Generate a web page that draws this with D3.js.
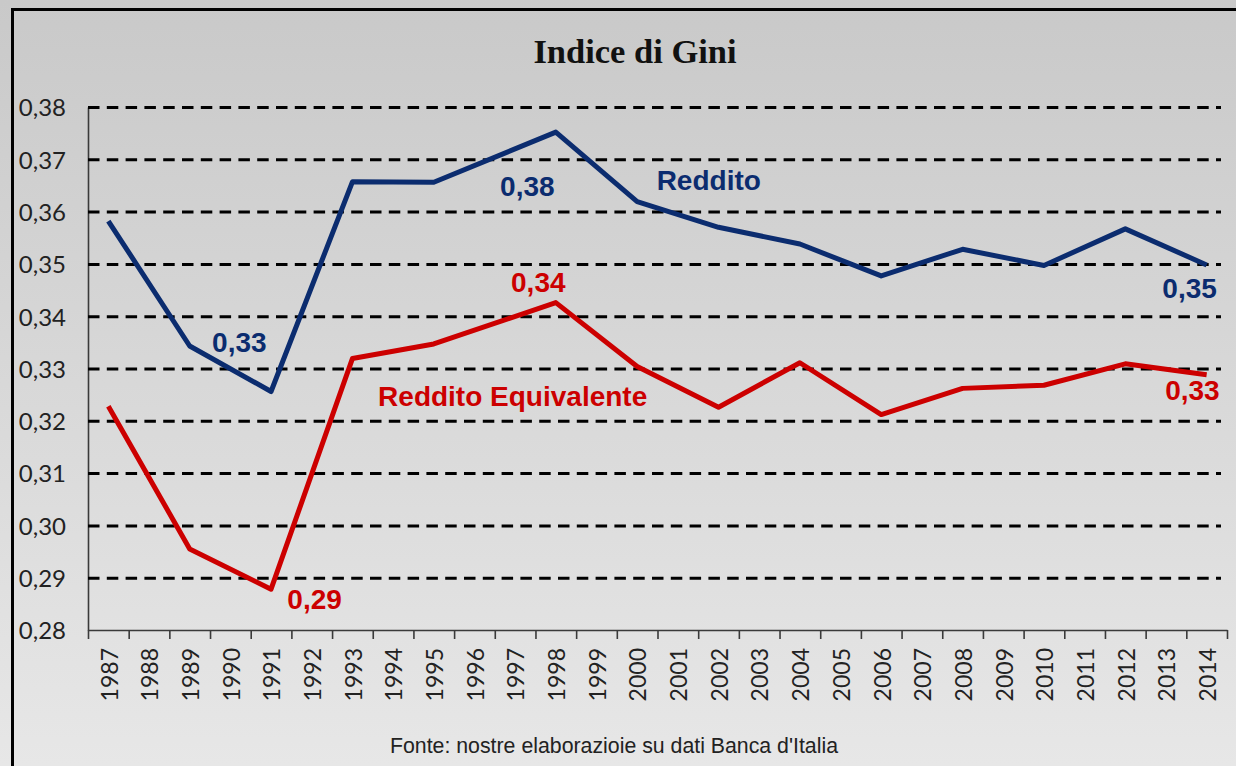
<!DOCTYPE html>
<html><head><meta charset="utf-8">
<script src="https://cdn.jsdelivr.net/npm/d3@7/dist/d3.min.js"></script>
<style>html,body{margin:0;padding:0;overflow:hidden;background:#d6d6d6}</style>
</head><body>
<svg id="c" width="1236" height="766"></svg>
<script>
// ---- data ----
const categories = ["1987","1988","1989","1990","1991","1992","1993","1994","1995","1996","1997","1998","1999","2000","2001","2002","2003","2004","2005","2006","2007","2008","2009","2010","2011","2012","2013","2014"];
const dataYears = [1987,1989,1991,1993,1995,1998,2000,2002,2004,2006,2008,2010,2012,2014];
const reddito = [0.3582,0.3343,0.3256,0.3657,0.3656,0.3752,0.3619,0.3570,0.3538,0.3477,0.3528,0.3497,0.3567,0.3498];
const redditoEquivalente = [0.3228,0.2955,0.2878,0.3319,0.3347,0.3426,0.3304,0.3226,0.3311,0.3212,0.3262,0.3268,0.3309,0.3288];
const yTicks = [0.28,0.29,0.30,0.31,0.32,0.33,0.34,0.35,0.36,0.37,0.38];
const labelTexts = ["0,33","0,38","Reddito","0,34","Reddito Equivalente","0,29","0,35","0,33"];
const labelSeries = ["r","r","r","e","e","e","r","e"];
const labelYears = [1990.22,1997.30,2001.76,1997.57,1996.94,1992.07,2013.58,2013.65];
const labelValues = [0.3331,0.3629,0.3641,0.3446,0.3229,0.2840,0.3434,0.3239];
const title = "Indice di Gini";
const source = "Fonte: nostre elaborazioie su dati Banca d'Italia";

// ---- setup ----
const W = 1236, H = 766;
const svg = d3.select("#c");
const colors = {r:"#0b2c6f", e:"#cc0000"};

const defs = svg.append("defs");
const grad = defs.append("linearGradient").attr("id","bg").attr("x1",0).attr("y1",0).attr("x2",0).attr("y2",1);
grad.append("stop").attr("offset","0%").attr("stop-color","#c9c9c9");
grad.append("stop").attr("offset","100%").attr("stop-color","#e7e7e7");
svg.append("rect").attr("width",W).attr("height",H).attr("fill","url(#bg)");

// frame (top and left edges visible)
svg.append("path").attr("d","M12.5,766 L12.5,9.5 L1236,9.5")
  .attr("fill","none").attr("stroke","#000").attr("stroke-width",3);

const x = d3.scaleLinear().domain([1986.5, 2014.5]).range([88, 1227]);
const y = d3.scaleLinear().domain([0.28, 0.38]).range([630, 107]);
const gridRight = 1221;

// title
svg.append("text").attr("x",635).attr("y",63).attr("text-anchor","middle")
  .attr("font-family","'Liberation Serif','Times New Roman',serif").attr("font-weight","bold")
  .attr("font-size",34.5).attr("fill","#111").text(title);

// y axis with dashed gridlines
const fmt = d => d3.format(".2f")(d).replace(".", ",");
const yAxis = svg.append("g").attr("transform","translate(88,0)")
  .call(d3.axisLeft(y).tickValues(yTicks).tickSize(-(gridRight-88)).tickSizeOuter(0).tickPadding(22).tickFormat(fmt));
yAxis.select(".domain").attr("stroke","#3a3a3a").attr("stroke-width",1.6);
yAxis.selectAll(".tick line").attr("stroke","#000").attr("stroke-width",3).attr("stroke-dasharray","11.5,7.3")
  .filter(d => d === 0.28).remove();
yAxis.selectAll(".tick text").attr("font-family","Lato, sans-serif").attr("font-size",24)
  .attr("fill","#222").attr("dy","0.37em");

// x axis: ticks at category boundaries
const boundaries = categories.map(c => +c - 0.5).concat([+categories[categories.length-1] + 0.5]);
const xAxis = svg.append("g").attr("transform","translate(0,630)")
  .call(d3.axisBottom(x).tickValues(boundaries).tickSize(9).tickSizeOuter(0).tickFormat(""));
xAxis.select(".domain").attr("stroke","#3a3a3a").attr("stroke-width",1.6);
xAxis.selectAll(".tick line").attr("stroke","#3a3a3a").attr("stroke-width",1.6);

// x labels rotated
svg.append("g").selectAll("text").data(categories).join("text")
  .attr("transform", d => `translate(${x(+d)+1},648) rotate(-90)`)
  .attr("text-anchor","end").attr("dy","0.36em")
  .attr("font-family","Lato, sans-serif").attr("font-size",23).attr("fill","#222")
  .text(d => d);

// lines
const line = d3.line().x(d => x(d[0])).y(d => y(d[1]));
const series = [
  {key:"r", values: dataYears.map((yr,i) => [yr, reddito[i]])},
  {key:"e", values: dataYears.map((yr,i) => [yr, redditoEquivalente[i]])}
];
svg.append("g").selectAll("path").data(series).join("path")
  .attr("d", d => line(d.values)).attr("fill","none")
  .attr("stroke", d => colors[d.key]).attr("stroke-width",5)
  .attr("stroke-linejoin","round").attr("stroke-linecap","butt");

// annotations
svg.append("g").selectAll("text").data(labelTexts).join("text")
  .attr("x", (d,i) => x(labelYears[i])).attr("y", (d,i) => y(labelValues[i]))
  .attr("text-anchor","middle")
  .attr("font-family","'Liberation Sans', Arial, sans-serif").attr("font-weight","bold")
  .attr("font-size",28).attr("fill", (d,i) => colors[labelSeries[i]])
  .text(d => d);

// source
svg.append("text").attr("x",614).attr("y",753).attr("text-anchor","middle")
  .attr("font-family","'Liberation Sans', Arial, sans-serif").attr("font-size",21.3)
  .attr("fill","#222").text(source);
</script>
</body></html>
